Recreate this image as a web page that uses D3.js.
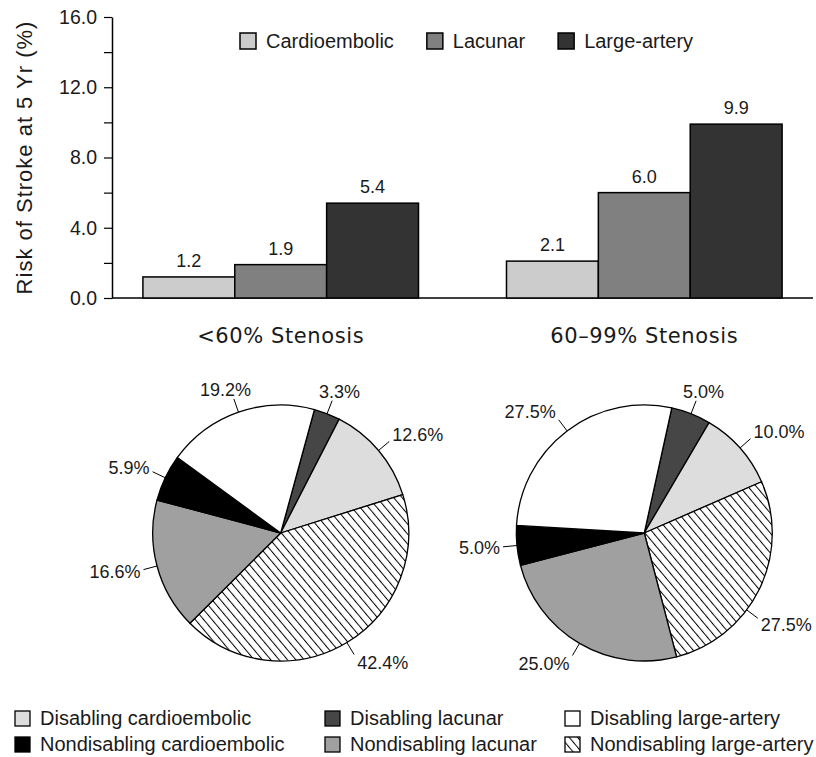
<!DOCTYPE html>
<html>
<head>
<meta charset="utf-8">
<script src="https://cdn.jsdelivr.net/npm/d3@7"></script>
<style>
  body { margin: 0; background: #fff; }
  svg { display: block; font-family: "Liberation Sans", Arial, sans-serif; }
</style>
</head>
<body>
<script>
// bar chart data
const groups = ['<60% Stenosis', '60\u201399% Stenosis'];
const subtypes = ['Cardioembolic', 'Lacunar', 'Large-artery'];
const riskLow = [1.2, 1.9, 5.4];
const riskHigh = [2.1, 6.0, 9.9];
const yTickValues = [0, 2, 4, 6, 8, 10, 12, 14, 16];
const yTickLabels = [0, 4, 8, 12, 16];

// pie data, clockwise order as drawn
const pieCategories = ['Disabling lacunar', 'Disabling cardioembolic', 'Nondisabling large-artery',
  'Nondisabling lacunar', 'Nondisabling cardioembolic', 'Disabling large-artery'];
const pieLow = [3.3, 12.6, 42.4, 16.6, 5.9, 19.2];
const pieHigh = [5.0, 10.0, 27.5, 25.0, 5.0, 27.5];
const legendOrder = ['Disabling cardioembolic', 'Disabling lacunar', 'Disabling large-artery',
  'Nondisabling cardioembolic', 'Nondisabling lacunar', 'Nondisabling large-artery'];

const width = 816, height = 757;
const svg = d3.select('body').append('svg')
  .attr('width', width)
  .attr('height', height);

const defs = svg.append('defs');
defs.append('pattern')
  .attr('id', 'hatch')
  .attr('patternUnits', 'userSpaceOnUse')
  .attr('width', 6.4)
  .attr('height', 10)
  .attr('patternTransform', 'rotate(-40)')
  .call(p => {
    p.append('rect').attr('width', 6.4).attr('height', 10).attr('fill', '#fff');
    p.append('line').attr('x1', 0.5).attr('y1', -1).attr('x2', 0.5).attr('y2', 11)
      .attr('stroke', '#000').attr('stroke-width', 1);
  });

const barColor = d3.scaleOrdinal()
  .domain(subtypes)
  .range(['#cccccc', '#808080', '#333333']);

const pieColor = d3.scaleOrdinal()
  .domain(legendOrder)
  .range(['#dddddd', '#464646', '#ffffff', '#000000', '#a0a0a0', 'url(#hatch)']);

// ---- bar chart
const axisX = 112, plotTop = 17, plotBase = 298;
const y = d3.scaleLinear().domain([0, 16]).range([plotBase, plotTop]);
const x0 = d3.scaleBand().domain(groups).range([axisX, 813])
  .paddingInner(0.242).paddingOuter(0.085);
const x1 = d3.scaleBand().domain(subtypes).range([0, x0.bandwidth()]);

const fmt = d3.format('.1f');

svg.append('g')
  .attr('transform', `translate(${axisX},0)`)
  .call(d3.axisLeft(y)
    .tickValues(yTickValues)
    .tickSize(8)
    .tickSizeOuter(0)
    .tickPadding(7)
    .tickFormat(d => yTickLabels.includes(d) ? fmt(d) : ''))
  .call(g => {
    g.select('.domain').attr('stroke', '#000').attr('stroke-width', 1.5);
    g.selectAll('.tick line').attr('stroke', '#000').attr('stroke-width', 1.2);
    g.selectAll('.tick text')
      .attr('fill', '#1a1a1a')
      .style('font-size', '19.5px')
      .style('font-family', '"Liberation Sans", Arial, sans-serif');
  });

// baseline
svg.append('line')
  .attr('x1', x0.range()[0]).attr('x2', x0.range()[1])
  .attr('y1', y(0)).attr('y2', y(0))
  .attr('stroke', '#000').attr('stroke-width', 1.5);

svg.append('text')
  .attr('transform', `translate(32,${(y(0) + y(16)) / 2}) rotate(-90)`)
  .attr('text-anchor', 'middle')
  .style('font-size', '22px')
  .style('letter-spacing', '1px')
  .attr('fill', '#1a1a1a')
  .text('Risk of Stroke at 5 Yr (%)');

const barData = [riskLow, riskHigh];
const bars = svg.append('g').selectAll('g')
  .data(groups)
  .enter()
  .append('g')
  .attr('transform', d => `translate(${x0(d)},0)`);

bars.selectAll('rect')
  .data((g, i) => subtypes.map((s, j) => ({ key: s, value: barData[i][j] })))
  .enter()
  .append('rect')
  .attr('x', d => x1(d.key))
  .attr('y', d => y(d.value))
  .attr('width', x1.bandwidth())
  .attr('height', d => y(0) - y(d.value))
  .attr('fill', d => barColor(d.key))
  .attr('stroke', '#000')
  .attr('stroke-width', 1.5);

bars.selectAll('text')
  .data((g, i) => subtypes.map((s, j) => ({ key: s, value: barData[i][j] })))
  .enter()
  .append('text')
  .attr('x', d => x1(d.key) + x1.bandwidth() / 2)
  .attr('y', d => y(d.value) - 10)
  .attr('text-anchor', 'middle')
  .style('font-size', '18px')
  .attr('fill', '#1a1a1a')
  .text(d => fmt(d.value));

// top legend
const topLegend = svg.append('g').attr('transform', 'translate(240,33)');
let lx = 0;
subtypes.forEach(s => {
  const item = topLegend.append('g').attr('transform', `translate(${lx},0)`);
  item.append('rect')
    .attr('width', 16).attr('height', 16)
    .attr('fill', barColor(s))
    .attr('stroke', '#000').attr('stroke-width', 1.5);
  const t = item.append('text')
    .attr('x', 26).attr('y', 15)
    .style('font-size', '20px')
    .attr('fill', '#1a1a1a')
    .text(s);
  lx += 26 + t.node().getComputedTextLength() + 33;
});

// group titles
svg.append('g').selectAll('text')
  .data(groups)
  .enter()
  .append('text')
  .attr('x', d => x0(d) + x0.bandwidth() / 2)
  .attr('y', 343)
  .attr('text-anchor', 'middle')
  .style('font-family', '"DejaVu Sans", sans-serif')
  .style('font-size', '21px')
  .style('letter-spacing', '0.6px')
  .attr('fill', '#1a1a1a')
  .text(d => d);

// ---- pies
const radius = 128, pieY = 533;
const pieStarts = [15.3, 12.4];
const arc = d3.arc().innerRadius(0).outerRadius(radius);
const pctFmt = d => d3.format('.1f')(d) + '%';

[pieLow, pieHigh].forEach((vals, i) => {
  const a0 = pieStarts[i] * Math.PI / 180;
  const cx = x0(groups[i]) + x0.bandwidth() / 2;
  const pie = d3.pie().sort(null).value(d => d.value)
    .startAngle(a0).endAngle(a0 + 2 * Math.PI);
  const arcs = pie(pieCategories.map((c, j) => ({ key: c, value: vals[j] })));
  const g = svg.append('g')
    .attr('transform', `translate(${cx},${pieY})`);

  g.selectAll('path')
    .data(arcs)
    .enter()
    .append('path')
    .attr('d', arc)
    .attr('fill', d => pieColor(d.data.key))
    .attr('stroke', '#000')
    .attr('stroke-width', 1.3)
    .attr('stroke-linejoin', 'round');

  arcs.forEach(d => {
    const t = g.append('text')
      .style('font-size', '18px')
      .attr('fill', '#1a1a1a')
      .attr('dy', '0.35em')
      .text(pctFmt(d.data.value));
    const w = t.node().getComputedTextLength();

    // place label along the slice's middle angle, turning it down a little
    // when it would run past the right edge
    const place = mid => {
      const s = Math.sin(mid), c = -Math.cos(mid);
      const ex = s * (radius + 14), ey = c * (radius + 14);
      let tx, anchor, right;
      if (Math.abs(s) > 0.45) {
        anchor = s > 0 ? 'start' : 'end';
        tx = ex + (s > 0 ? 3 : -3);
        right = s > 0 ? tx + w : tx;
      } else {
        anchor = 'middle';
        tx = ex + s * w / 2;
        right = tx + w / 2;
      }
      return { s, c, ex, ey, tx, ty: ey + c * 10, anchor, right };
    };
    let mid = (d.startAngle + d.endAngle) / 2;
    let p = place(mid);
    for (let k = 0; k < 30 && cx + p.right > width - 3; k++) {
      mid += Math.PI / 180;
      p = place(mid);
    }

    g.append('line')
      .attr('x1', p.s * radius).attr('y1', p.c * radius)
      .attr('x2', p.ex).attr('y2', p.ey)
      .attr('stroke', '#000').attr('stroke-width', 1);
    t.attr('x', p.tx).attr('y', p.ty).attr('text-anchor', p.anchor);
  });
});

// bottom legend
const colX = [15, 325, 565];
const rowY = [711, 737];
const bottomLegend = svg.append('g');
legendOrder.forEach((k, i) => {
  const gx = colX[i % 3], gy = rowY[Math.floor(i / 3)];
  bottomLegend.append('rect')
    .attr('x', gx).attr('y', gy)
    .attr('width', 15).attr('height', 15)
    .attr('fill', pieColor(k))
    .attr('stroke', '#000').attr('stroke-width', 1.3);
  bottomLegend.append('text')
    .attr('x', gx + 25).attr('y', gy + 14)
    .style('font-size', '20px')
    .attr('fill', '#1a1a1a')
    .text(k);
});
</script>
</body>
</html>
